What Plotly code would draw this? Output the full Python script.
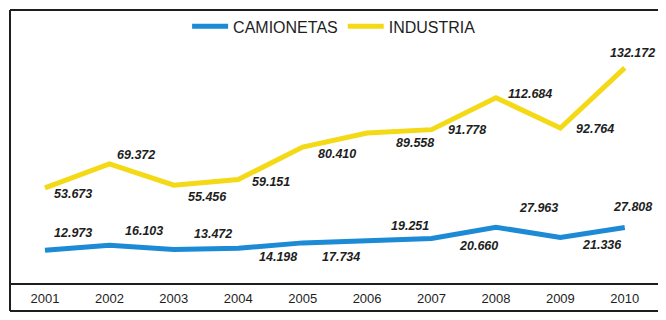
import plotly.graph_objects as go

years = ["2001", "2002", "2003", "2004", "2005", "2006", "2007", "2008", "2009", "2010"]
camionetas = [12973, 16103, 13472, 14198, 17734, 19251, 20660, 27963, 21336, 27808]
industria = [53673, 69372, 55456, 59151, 80410, 89558, 91778, 112684, 92764, 132172]

# pixel offset (right, down) of each value label from its point
off_camionetas = [(28, -17), (35, -14), (39, -15), (40, 9), (38, 14),
                  (43, -15), (47, 8), (43, -19), (42, 8), (8, -20)]
off_industria = [(28, 6), (27, -9), (34, 12), (33, 2), (34, 7),
                 (48, 10), (35, 0), (34, -4), (35, 1), (8, -15)]

BLUE = "#1d8ad6"
YELLOW = "#f4d916"
INK = "#1e1e1e"

label_font = dict(family="Liberation Sans, Arial", size=12.5,
                  color=INK, style="italic", weight="bold")


def es(v):
    # Spanish thousands separator
    return f"{v:,}".replace(",", ".")


fig = go.Figure()
annotations = []

for name, values, color, offsets in [
    ("CAMIONETAS", camionetas, BLUE, off_camionetas),
    ("INDUSTRIA", industria, YELLOW, off_industria),
]:
    fig.add_trace(
        go.Scatter(
            x=years,
            y=values,
            name=name,
            mode="lines",
            line=dict(color=color, width=5),
            hoverinfo="skip",
        )
    )
    # category axis: annotations are placed by category index
    for i, (v, (dx, dy)) in enumerate(zip(values, offsets)):
        annotations.append(dict(
            x=i, y=v, text=es(v), showarrow=False,
            xanchor="center", yanchor="middle",
            xshift=dx, yshift=-dy, font=label_font,
        ))

frame = dict(color=INK, width=2)

# the page body adds an 8px offset, so the figure is shrunk to fit the window
fig.update_layout(
    width=658,
    height=304,
    margin=dict(l=2, r=0, t=2, b=29),
    paper_bgcolor="white",
    plot_bgcolor="white",
    font=dict(family="Liberation Sans, Arial", color=INK),
    showlegend=True,
    legend=dict(
        orientation="h",
        x=0.27,
        xanchor="left",
        y=0.94,
        yanchor="middle",
        font=dict(size=16, color=INK),
        itemwidth=36,
        bgcolor="rgba(0,0,0,0)",
    ),
    annotations=annotations,
    xaxis=dict(
        type="category",
        range=[-0.543, 9.64],
        showgrid=False,
        zeroline=False,
        showline=True,
        linecolor=INK,
        linewidth=2,
        ticks="",
        ticklabelstandoff=2,
        tickfont=dict(size=13, color=INK),
    ),
    yaxis=dict(
        range=[-8500, 170000],
        showgrid=False,
        zeroline=False,
        showline=False,
        showticklabels=False,
        ticks="",
    ),
    shapes=[
        # outer frame: left edge, top edge and the bottom rule under the years
        dict(type="line", xref="paper", yref="paper", x0=0, x1=0, y0=1, y1=-0.1026, line=frame),
        dict(type="line", xref="paper", yref="paper", x0=0, x1=1, y0=1, y1=1, line=frame),
        dict(type="line", xref="paper", yref="paper", x0=0, x1=1, y0=-0.1026, y1=-0.1026, line=frame),
    ],
)

fig.write_html("out.html")
